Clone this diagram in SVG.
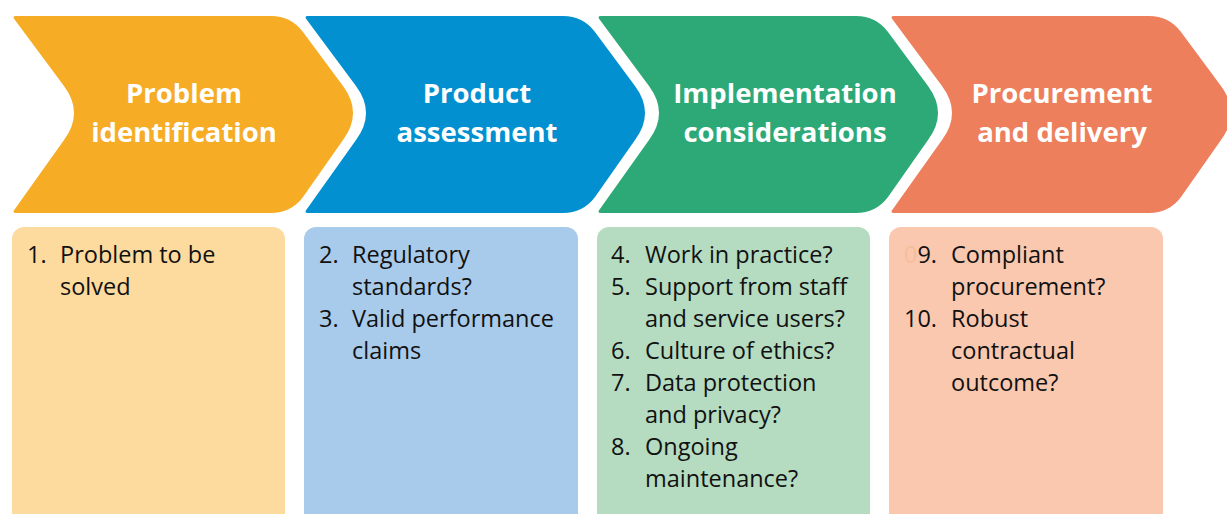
<svg xmlns="http://www.w3.org/2000/svg" width="1227" height="514" viewBox="0 0 1227 514">
<defs>
<path id="chev" d="M16,16 L271,16 Q291,16 303,32 L343,86 Q363,113 343,140 L303,197 Q291,213 271,213 L16,213 Q12,213 14.4,209.8 L64,140 Q84,113 64,86 L14.4,19.2 Q12,16 16,16 Z"/>
</defs>
<style>
.h{font-family:"Open Sans","Liberation Sans",sans-serif;font-weight:bold;font-size:27.5px;fill:#fff;text-anchor:middle}
.b{font-family:"Open Sans","Liberation Sans",sans-serif;font-size:23.5px;fill:#111}
</style>
<rect width="1227" height="514" fill="#fff"/>
<g id="step1">
<use href="#chev" fill="#F6AC24"/>
<text class="h" x="184" y="103">Problem</text>
<text class="h" x="184" y="142">identification</text>
</g>
<g id="step2">
<use href="#chev" x="292" fill="#0290D0"/>
<text class="h" x="477" y="103">Product</text>
<text class="h" x="477" y="142">assessment</text>
</g>
<g id="step3">
<use href="#chev" x="585" fill="#2DA977"/>
<text class="h" x="785" y="103">Implementation</text>
<text class="h" x="785" y="142">considerations</text>
</g>
<g id="step4">
<use href="#chev" x="878" fill="#ED7F5C"/>
<text class="h" x="1062" y="103">Procurement</text>
<text class="h" x="1062" y="142">and delivery</text>
</g>
<g id="box1">
<rect x="12" y="227" width="273" height="300" rx="12" fill="#FDDA9E"/>
<text class="b" x="27" y="263">1.</text>
<text class="b" x="60" y="263">Problem to be</text>
<text class="b" x="60" y="295">solved</text>
</g>
<g id="box2">
<rect x="304" y="227" width="274" height="300" rx="12" fill="#A9CBEB"/>
<text class="b" x="319" y="263">2.</text>
<text class="b" x="352" y="263">Regulatory</text>
<text class="b" x="352" y="295">standards?</text>
<text class="b" x="319" y="327">3.</text>
<text class="b" x="352" y="327">Valid performance</text>
<text class="b" x="352" y="359">claims</text>
</g>
<g id="box3">
<rect x="597" y="227" width="273" height="300" rx="12" fill="#B5DBC0"/>
<text class="b" x="611" y="263">4.</text>
<text class="b" x="645" y="263">Work in practice?</text>
<text class="b" x="611" y="295">5.</text>
<text class="b" x="645" y="295">Support from staff</text>
<text class="b" x="645" y="327">and service users?</text>
<text class="b" x="611" y="359">6.</text>
<text class="b" x="645" y="359">Culture of ethics?</text>
<text class="b" x="611" y="391">7.</text>
<text class="b" x="645" y="391">Data protection</text>
<text class="b" x="645" y="423">and privacy?</text>
<text class="b" x="611" y="455">8.</text>
<text class="b" x="645" y="455">Ongoing</text>
<text class="b" x="645" y="487">maintenance?</text>
</g>
<g id="box4">
<rect x="889" y="227" width="274" height="300" rx="12" fill="#F9C8AF"/>
<text class="b" x="904" y="263"><tspan fill="#F7BD9C">0</tspan>9.</text>
<text class="b" x="904" y="327">10.</text>
<text class="b" x="951" y="263">Compliant</text>
<text class="b" x="951" y="295">procurement?</text>
<text class="b" x="951" y="327">Robust</text>
<text class="b" x="951" y="359">contractual</text>
<text class="b" x="951" y="391">outcome?</text>
</g>
<g id="connectors"/>
</svg>
